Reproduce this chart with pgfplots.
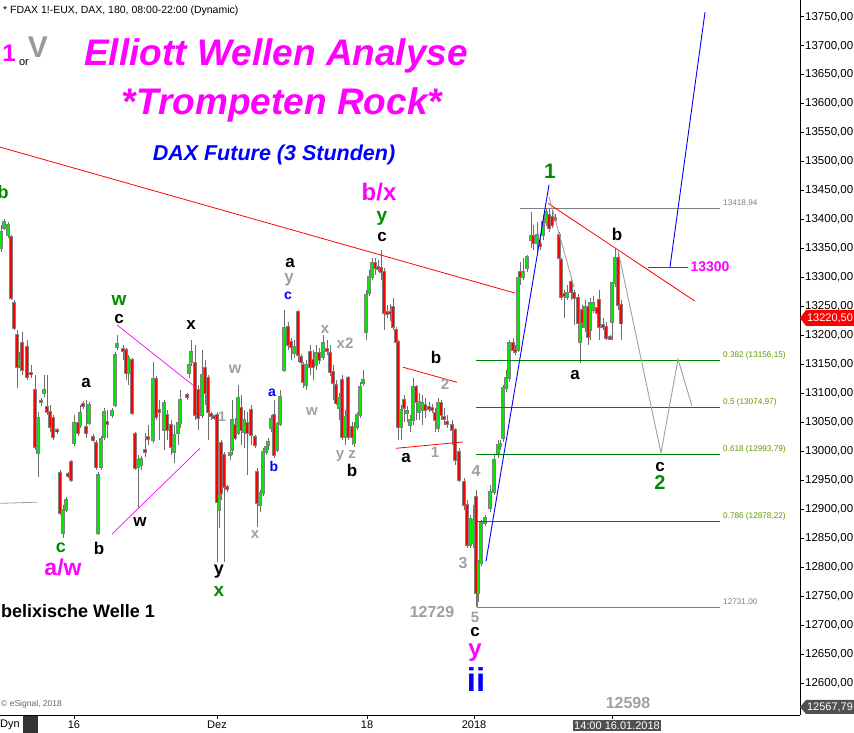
\documentclass[border=0pt]{standalone}
\usepackage{fontspec}
\setmainfont{Liberation Sans}
\usepackage{pgfplots}
\usepackage{pgfplotstable}
\pgfplotsset{compat=1.18}

\definecolor{mag}{RGB}{255,0,255}
\definecolor{dkgreen}{RGB}{0,140,0}
\definecolor{lblgray}{RGB}{160,160,160}
\definecolor{upgreen}{RGB}{0,235,0}
\definecolor{dnred}{RGB}{255,0,0}
\definecolor{wick}{RGB}{110,110,110}
\definecolor{fibgreen}{RGB}{0,128,0}
\definecolor{fibtext}{RGB}{100,150,0}
\definecolor{tagdark}{RGB}{80,80,80}

% 3h candles, x = pixel column of the chart
\pgfplotstableread{
x o h l c
1 13351 13390 13344 13378
4 13385 13401 13382 13396
8 13373 13396 13368 13390
19 13149 13171 13144 13157
38 12997 13068 12955 13057
44 13100 13131 13093 13106
63 12859 12907 12850 12898
66 12898 12921 12895 12916
74 13014 13062 13009 13049
80 13045 13080 13040 13066
89 13049 13085 13045 13080
98 12859 12964 12855 12959
101 12973 13026 12967 13021
104 13024 13074 13019 13068
112 13062 13074 13057 13069
115 13080 13171 13076 13166
117 13180 13200 13175 13185
128 13135 13166 13114 13161
138 12973 12993 12902 12985
141 12976 12992 12967 12986
153 13019 13154 13014 13125
164 13036 13088 13002 13083
174 12998 13045 12979 13028
178 13031 13068 13011 13049
180 13049 13106 13040 13088
189 13135 13166 13126 13149
191 13154 13192 13147 13171
202 13062 13175 13057 13131
219 12898 12933 12867 12924
230 12993 13002 12985 12997
232 13002 13088 12993 13054
238 13031 13114 13028 13092
244 13033 13071 13005 13054
260 12907 12933 12895 12928
263 12928 13005 12922 12998
266 12998 13011 12993 13007
268 13011 13023 13002 13016
271 13040 13062 13033 13055
277 13002 13050 12998 13047
280 13047 13106 13043 13093
284 13140 13244 13137 13213
294 13169 13192 13161 13180
306 13114 13157 13106 13149
316 13149 13183 13140 13169
323 13162 13200 13157 13187
339 13074 13100 13054 13092
345 13024 13071 13011 13059
354 13014 13050 13007 13042
357 13042 13068 13036 13062
360 13062 13119 13057 13111
363 13118 13140 13112 13123
366 13206 13278 13192 13270
369 13273 13313 13268 13301
372 13301 13334 13296 13325
401 13042 13080 13019 13071
407 13066 13078 13050 13070
410 13045 13062 13033 13054
413 13054 13126 13045 13111
419 13068 13100 13054 13085
422 13071 13097 13045 13083
438 13040 13092 13033 13083
470 12838 12890 12833 12884
473 12841 12907 12833 12881
478 12755 12812 12740 12807
481 12807 12881 12802 12876
485 12876 12890 12871 12884
490 12902 12942 12895 12929
494 12929 12993 12924 12985
498 12997 13019 12988 13011
500 13009 13019 13002 13012
503 13023 13114 13016 13109
506 13109 13140 13102 13126
509 13126 13192 13119 13187
518 13175 13304 13171 13299
523 13301 13334 13296 13309
527 13316 13339 13309 13335
531 13365 13413 13351 13371
537 13359 13396 13344 13373
543 13373 13408 13365 13396
546 13396 13420 13389 13413
567 13266 13287 13261 13273
580 13188 13227 13152 13221
585 13214 13261 13206 13249
590 13209 13264 13192 13256
593 13244 13268 13238 13256
612 13223 13244 13192 13290
615 13290 13351 13283 13334
}\upc

\pgfplotstableread{
x o h l c
11 13370 13373 13261 13264
14 13256 13261 13209 13213
17 13200 13209 13109 13145
22 13187 13206 13131 13140
27 13180 13192 13123 13128
31 13135 13149 13126 13133
35 13106 13131 13002 13007
41 13087 13092 13078 13085
47 13076 13131 13062 13068
50 13068 13080 13033 13042
53 13057 13062 13019 13024
57 13036 13040 13030 13035
60 12962 12967 12890 12893
68 12961 12964 12954 12957
71 12981 12985 12947 12950
78 13049 13057 13026 13031
83 13081 13087 13073 13078
86 13042 13088 13023 13031
93 13024 13030 13016 13019
96 13014 13019 12967 12973
107 13050 13071 13023 13047
123 13176 13183 13157 13173
126 13175 13178 13123 13135
132 13157 13161 13062 13066
135 13030 13033 12967 12971
145 13002 13031 12990 12998
148 13024 13045 13011 13021
156 13125 13130 13054 13059
159 13071 13088 13019 13068
167 13062 13071 13019 13036
171 13045 13054 12993 13007
187 13097 13100 13088 13093
195 13152 13183 13054 13062
198 13106 13114 13036 13057
205 13144 13157 13080 13100
208 13126 13131 13019 13068
211 13064 13068 13054 13061
214 13061 13062 13054 13057
217 13062 13068 12808 12912
221 13014 13019 12916 12928
224 12993 12998 12808 12938
227 12938 12942 12929 12935
235 13045 13057 13019 13023
241 13074 13097 13011 13036
247 13049 13068 12959 13031
251 13071 13080 13011 13028
255 13024 13028 13005 13011
257 12964 12971 12869 12910
274 13062 13088 12988 12993
288 13214 13223 13175 13183
291 13188 13195 13157 13180
298 13240 13244 13154 13166
301 13162 13168 13149 13154
303 13149 13154 13109 13119
310 13171 13183 13131 13145
313 13157 13175 13123 13145
319 13170 13178 13150 13158
327 13176 13192 13166 13173
330 13169 13183 13130 13137
333 13137 13149 13088 13118
336 13114 13123 13080 13083
342 13123 13131 13019 13024
348 13126 13130 13019 13024
352 13042 13050 13011 13024
375 13325 13334 13304 13316
378 13318 13330 13309 13315
381 13316 13347 13296 13309
384 13309 13316 13209 13238
387 13240 13252 13230 13237
390 13240 13255 13225 13238
393 13249 13264 13209 13214
396 13209 13214 13183 13188
398 13188 13192 13019 13042
404 13088 13097 13050 13074
416 13111 13114 13054 13085
425 13080 13092 13057 13071
429 13076 13085 13068 13073
432 13074 13081 13066 13071
435 13066 13074 13033 13054
441 13083 13088 13054 13062
444 13059 13074 13045 13055
447 13050 13062 13040 13047
452 13045 13054 13011 13036
455 13036 13040 12976 12985
459 12998 13005 12947 12950
464 12947 12954 12898 12907
467 12907 12916 12833 12838
476 12921 12933 12731 12755
513 13187 13195 13171 13175
515 13175 13183 13166 13171
520 13309 13327 13287 13301
533 13371 13390 13347 13359
540 13358 13373 13347 13354
549 13408 13418 13378 13385
552 13404 13416 13385 13390
555 13402 13409 13396 13399
559 13373 13378 13330 13334
561 13330 13334 13261 13266
564 13271 13278 13230 13268
571 13292 13301 13261 13275
574 13273 13278 13218 13264
578 13264 13271 13206 13221
582 13244 13252 13213 13221
588 13249 13256 13183 13197
597 13247 13257 13230 13238
599 13261 13278 13192 13214
603 13218 13230 13209 13214
606 13214 13223 13192 13195
610 13197 13200 13192 13193
618 13334 13344 13244 13252
621 13252 13261 13192 13220.5
}\dnc

\newcommand\lbl[5]{\node[inner sep=0pt, text=#3, font=\fontsize{#4}{#4}\selectfont\bfseries] at (#1,#2) {#5};}

\pgfplotsset{
  candle/.style 2 args={draw=none, mark=none, forget plot,
    error bars/.cd, y dir=both, y explicit, error mark=none,
    error bar style={draw=#1, line width=#2}},
}

\begin{document}
\begin{tikzpicture}
\begin{axis}[
  at={(0pt,18pt)}, anchor=south west,
  scale only axis, width=800pt, height=715pt,
  xmin=0, xmax=800, ymin=12544.6, ymax=13779,
  axis x line*=bottom, axis y line*=right,
  axis line style={-, black, line width=0.9pt},
  tick align=outside, major tick length=4pt,
  tick style={black, line width=0.8pt},
  xtick={74,217,367,474}, xticklabels={16,Dez,18,2018},
  extra x ticks={612}, extra x tick labels={14:00 16.01.2018},
  extra x tick style={xticklabel style={fill=tagdark, text=white, inner sep=1.5pt, xshift=5pt}},
  xticklabel style={font=\fontsize{11}{12}\selectfont, inner sep=1pt, yshift=-1pt},
  ytick={12600,12650,...,13750},
  scaled y ticks=false,
  yticklabel style={font=\fontsize{11.5}{12}\selectfont, inner sep=1pt,
    /pgf/number format/.cd, fixed, fixed zerofill, precision=2, use comma,
    1000 sep={}, assume math mode=true},
]
% wicks
\addplot[candle={wick}{0.9pt}]
  table[x=x, y expr={(\thisrow{h}+\thisrow{l})/2}, y error expr={(\thisrow{h}-\thisrow{l})/2}] {\upc};
\addplot[candle={wick}{0.9pt}]
  table[x=x, y expr={(\thisrow{h}+\thisrow{l})/2}, y error expr={(\thisrow{h}-\thisrow{l})/2}] {\dnc};
% body outlines
\addplot[candle={gray}{3.4pt}]
  table[x=x, y expr={(\thisrow{o}+\thisrow{c})/2}, y error expr={abs(\thisrow{o}-\thisrow{c})/2+1.6}] {\upc};
\addplot[candle={gray}{3.4pt}]
  table[x=x, y expr={(\thisrow{o}+\thisrow{c})/2}, y error expr={abs(\thisrow{o}-\thisrow{c})/2+1.6}] {\dnc};
% bodies
\addplot[candle={upgreen}{2.1pt}]
  table[x=x, y expr={(\thisrow{o}+\thisrow{c})/2}, y error expr={max(abs(\thisrow{o}-\thisrow{c})/2,0.7)}] {\upc};
\addplot[candle={dnred}{2.1pt}]
  table[x=x, y expr={(\thisrow{o}+\thisrow{c})/2}, y error expr={max(abs(\thisrow{o}-\thisrow{c})/2,0.7)}] {\dnc};

% fibonacci levels
\addplot[gray, line width=0.8pt] coordinates {(520,13418.94) (720,13418.94)};
\addplot[fibgreen, line width=0.9pt] coordinates {(476,13156.15) (720,13156.15)};
\addplot[fibgreen, line width=0.9pt] coordinates {(476,13074.97) (720,13074.97)};
\addplot[fibgreen, line width=0.9pt] coordinates {(476,12993.79) (720,12993.79)};
\addplot[fibgreen, line width=0.9pt] coordinates {(476,12878.22) (720,12878.22)};
\addplot[gray, line width=0.8pt] coordinates {(477,12755) (477,12731) (720,12731)};

% trend lines
\addplot[red, line width=0.8pt] coordinates {(0,13525) (515,13273)};
\addplot[red, line width=0.8pt] coordinates {(548,13428) (695,13259)};
\addplot[red, line width=0.8pt] coordinates {(648,13318) (688,13318)};
\addplot[red, line width=0.8pt] coordinates {(403,13145) (457,13119)};
\addplot[red, line width=0.8pt] coordinates {(396,13005) (463,13016)};
\addplot[blue, line width=0.9pt] coordinates {(486,12810) (549,13460)};
\addplot[blue, line width=0.9pt] coordinates {(670,13318) (705,13758)};
\addplot[lblgray, line width=0.9pt] coordinates {(549,13439) (574,13283)};
\addplot[lblgray, line width=0.9pt] coordinates {(618,13347) (661,12997) (678,13159) (692,13078)};
\addplot[mag, line width=0.7pt] coordinates {(117,13218) (193,13114)};
\addplot[mag, line width=0.7pt] coordinates {(112,12857) (200,13005)};
\addplot[lblgray, line width=0.8pt] coordinates {(0,12910) (37,12912)};

% level labels
\begin{scope}[every node/.style={anchor=west, inner sep=0pt, yshift=5pt, font=\fontsize{8.2}{9}\selectfont}]
\node[text=gray] at (axis cs:723,13418.94) {13418,94};
\node[text=fibtext] at (axis cs:723,13156.15) {0.382 (13156,15)};
\node[text=fibtext] at (axis cs:723,13074.97) {0.5 (13074,97)};
\node[text=fibtext] at (axis cs:723,12993.79) {0.618 (12993,79)};
\node[text=fibtext] at (axis cs:723,12878.22) {0.786 (12878,22)};
\node[text=gray] at (axis cs:723,12731) {12731,00};
\end{scope}
\end{axis}

\begin{scope}[x=1pt, y=-1pt, yshift=733pt]
% header and titles
\node[anchor=west, inner sep=0pt, font=\fontsize{10.5}{11}\selectfont] at (3,11) {* FDAX 1!-EUX, DAX, 180, 08:00-22:00 (Dynamic)};
\lbl{9}{53}{mag}{24}{1}
\node[inner sep=0pt, font=\fontsize{11}{11}\selectfont] at (24,63) {or};
\lbl{38}{47}{black!40}{30}{V}
\node[inner sep=0pt, text=mag, font=\fontsize{37}{37}\selectfont\bfseries\itshape] at (276,56) {Elliott Wellen Analyse};
\node[inner sep=0pt, text=mag, font=\fontsize{37}{37}\selectfont\bfseries\itshape] at (282,105) {*Trompeten Rock*};
\node[inner sep=0pt, text=blue, font=\fontsize{21.5}{22}\selectfont\bfseries\itshape] at (274,155) {DAX Future (3 Stunden)};

% wave labels, left part
\lbl{3}{192}{dkgreen}{18}{b}
\lbl{119}{300}{dkgreen}{19}{w}
\lbl{119}{319}{black}{17}{c}
\lbl{86}{383}{black}{17}{a}
\lbl{191}{325}{black}{17}{x}
\lbl{235}{369}{lblgray}{16}{w}
\lbl{222}{417}{lblgray}{14}{1}
\lbl{272}{393}{blue}{14}{a}
\lbl{274}{467}{blue}{14}{b}
\lbl{255}{535}{lblgray}{15}{x}
\lbl{290}{263}{black}{17}{a}
\lbl{289}{280}{lblgray}{17}{y}
\lbl{288}{296}{blue}{14}{c}
\lbl{140}{522}{black}{17}{w}
\lbl{61}{548}{dkgreen}{18}{c}
\lbl{99}{548}{black}{17}{b}
\lbl{63}{567}{mag}{23}{a/w}
\lbl{219}{572}{black}{18}{y}
\lbl{219}{591}{dkgreen}{19}{x}
\node[anchor=east, inner sep=0pt, font=\fontsize{18}{18}\selectfont\bfseries] at (155,611) {belixische Welle 1};

% middle
\lbl{379}{192}{mag}{24}{b/x}
\lbl{382}{218}{dkgreen}{19}{y}
\lbl{382}{237}{black}{17}{c}
\lbl{325}{330}{lblgray}{15}{x}
\lbl{345}{343}{lblgray}{15}{x2}
\lbl{312}{412}{lblgray}{15}{w}
\lbl{346}{456}{lblgray}{15}{y z}
\lbl{352}{470}{black}{17}{b}
\lbl{406}{458}{black}{17}{a}
\lbl{436}{357}{black}{17}{b}
\lbl{445}{384}{lblgray}{15}{2}
\lbl{435}{452}{lblgray}{15}{1}
\lbl{476}{471}{lblgray}{16}{4}
\lbl{463}{563}{lblgray}{16}{3}
\lbl{432}{612}{lblgray}{16}{12729}
\lbl{475}{617}{lblgray}{15}{5}
\lbl{475}{632}{black}{17}{c}
\lbl{475}{653}{mag}{24}{y}
\lbl{476}{680}{blue}{33}{ii}

% right part
\lbl{550}{171}{dkgreen}{21}{1}
\lbl{617}{234}{black}{17}{b}
\lbl{575}{375}{black}{17}{a}
\lbl{710}{267}{mag}{14}{13300}
\lbl{660}{467}{black}{17}{c}
\lbl{660}{483}{dkgreen}{20}{2}
\lbl{628}{703}{lblgray}{16}{12598}

% price tags
\fill[dnred] (800,318) -- (806,310) -- (854,310) -- (854,326) -- (806,326) -- cycle;
\node[inner sep=0pt, text=white, font=\fontsize{11}{11}\selectfont] at (830,318) {13220,50};
\fill[tagdark] (800,707) -- (806,700) -- (854,700) -- (854,714) -- (806,714) -- cycle;
\node[inner sep=0pt, text=white, font=\fontsize{11}{11}\selectfont] at (830,707) {12567,79};

% footer
\node[anchor=west, inner sep=0pt, text=black!60, font=\fontsize{8.5}{9}\selectfont] at (1,704) {© eSignal, 2018};
\node[anchor=west, inner sep=0pt, font=\fontsize{11}{11}\selectfont] at (0,725) {Dyn};
\fill[black!80] (23,716) rectangle (38,733);
\end{scope}

\pgfresetboundingbox
\path[use as bounding box] (0,0) rectangle (854pt,733pt);
\end{tikzpicture}
\end{document}
